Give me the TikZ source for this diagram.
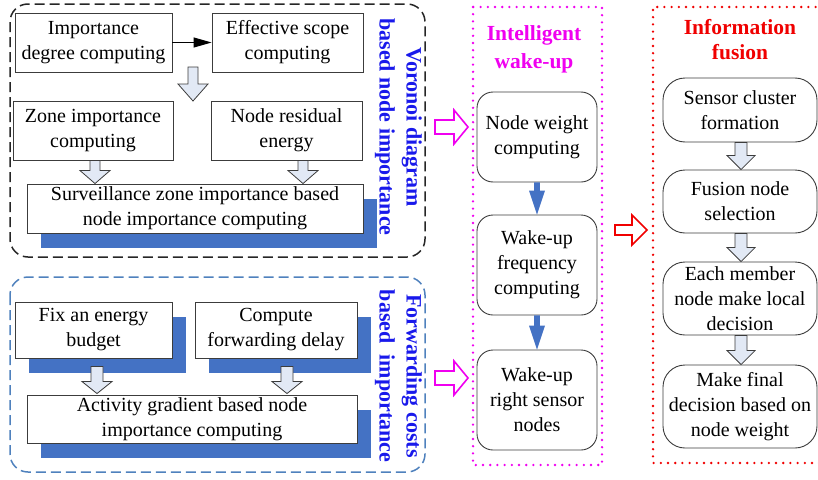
\documentclass[tikz,border=0pt]{standalone}
\usepackage{fontspec}
\setmainfont{Liberation Serif}
\usetikzlibrary{calc,shadows,arrows.meta}
\definecolor{sblue}{RGB}{68,114,196}
\definecolor{dblue}{RGB}{79,129,189}
\definecolor{vblue}{RGB}{25,25,235}
\definecolor{hfill}{RGB}{226,233,245}
\definecolor{bline}{RGB}{60,60,60}
\definecolor{mag}{RGB}{240,0,240}
\definecolor{fred}{RGB}{240,0,0}
\newcommand\hollowdown[6]{%
  \path[#1] let \p1=(#2), \p2=(#3) in
  (\x1-#4pt,\y1) -- (\x1+#4pt,\y1) -- (\x1+#4pt,\y2+#6pt) -- (\x1+#5pt,\y2+#6pt)
  -- (\x1,\y2) -- (\x1-#5pt,\y2+#6pt) -- (\x1-#4pt,\y2+#6pt) -- cycle;}
\newcommand\hollowright[6]{%
  \path[#1] let \p1=(#2), \p2=(#3) in
  (\x1,\y1+#4pt) -- (\x2-#6pt,\y1+#4pt) -- (\x2-#6pt,\y1+#5pt) -- (\x2,\y1)
  -- (\x2-#6pt,\y1-#5pt) -- (\x2-#6pt,\y1-#4pt) -- (\x1,\y1-#4pt) -- cycle;}
\tikzset{
  boxbase/.style={draw=bline, line width=0.9pt, fill=white, inner sep=0pt, align=center,
    font=\fontsize{20}{25}\selectfont},
  sqbox/.style={boxbase},
  shbox/.style={boxbase, general shadow={fill=sblue, shadow xshift=14pt, shadow yshift=-15pt}},
  rbox/.style={boxbase, rounded corners=16pt},
  fbox/.style={boxbase, rounded corners=22pt},
  vlabel/.style={rotate=-90, align=center, text=vblue, font=\fontsize{22}{27}\selectfont\bfseries},
  hollowgray/.style={draw=bline, line width=0.8pt, fill=hfill},
  hollowmag/.style={draw=mag, line width=1.6pt, fill=white},
  hollowred/.style={draw=fred, line width=1.6pt, fill=white},
  solidblue/.style={fill=sblue},
  dotline/.style={line width=2.6pt, line cap=round, dash pattern=on 0pt off 7.2pt},
}
\begin{document}
\begin{tikzpicture}[x=1pt,y=-1pt]
\useasboundingbox (0,0) rectangle (818,479);
\clip (0,0) rectangle (818,479);
% containers
\draw[black!85, line width=1.5pt, dash pattern=on 10pt off 5pt, rounded corners=18pt]
  (10,4) rectangle (425,257);
\draw[dblue, line width=1.5pt, dash pattern=on 10pt off 5pt, rounded corners=18pt]
  (10,277) rectangle (425,472);
\draw[mag, dotline] (473,7) rectangle (602,465);
\draw[fred, dotline] (830,7) -- (653,7) -- (653,463) -- (830,463);

% left top group
\node[sqbox, minimum width=157pt, minimum height=59pt] (imp) at (93.5,42.5) {Importance\\degree computing};
\node[sqbox, minimum width=151pt, minimum height=59pt] (eff) at (287.5,42.5) {Effective scope\\computing};
\node[sqbox, minimum width=160pt, minimum height=59pt] (zone) at (93,130.5) {Zone importance\\computing};
\node[sqbox, minimum width=151pt, minimum height=59pt] (resid) at (286.5,130.5) {Node residual\\energy};
\node[shbox, minimum width=336pt, minimum height=49pt] (surv) at (195,208.5) {Surveillance zone importance based\\node importance computing};
\node[vlabel] (vlab) at (398.5,127) {Voronoi diagram\\based node importance};

\draw[line width=1pt, -{Triangle[length=18pt,width=10pt]}] (imp.east) -- (eff.west);
\coordinate (a1s) at (193,67);
\coordinate (a1e) at (193,101);
\hollowdown{hollowgray}{a1s}{a1e}{5}{15}{17}
\hollowdown{hollowgray}{$(zone.south)+(2,0)$}{$(zone.south |- surv.north)+(2,0)$}{5}{15}{13}
\hollowdown{hollowgray}{$(resid.south)+(16.5,0)$}{$(resid.south |- surv.north)+(16.5,0)$}{5}{15}{13}

% left bottom group
\node[shbox, minimum width=157pt, minimum height=56pt] (fix) at (93.5,330) {Fix an energy\\budget};
\node[shbox, minimum width=162pt, minimum height=56pt] (fwd) at (276,330) {Compute\\forwarding delay};
\node[shbox, minimum width=330pt, minimum height=48pt] (act) at (192,419) {Activity gradient based node\\importance computing};
\node[vlabel] (flab) at (398.5,376) {Forwarding costs\\based\ \ importance};
\hollowdown{hollowgray}{$(fix.south)+(3.5,8)$}{$(fix.south |- act.north)+(3.5,-1)$}{6}{15}{12}
\hollowdown{hollowgray}{$(fwd.south)+(11,8)$}{$(fwd.south |- act.north)+(11,-1)$}{6}{15}{12}

% middle column
\node[text=mag, align=center, font=\fontsize{21.5}{28}\selectfont\bfseries] (ititle) at (534,49) {Intelligent\\wake-up};
\node[rbox, minimum width=120pt, minimum height=90pt] (nw) at (537,137) {Node weight\\computing};
\node[rbox, minimum width=120pt, minimum height=100pt] (wf) at (537,265) {Wake-up\\frequency\\computing};
\node[rbox, minimum width=120pt, minimum height=100pt] (wr) at (537,400) {Wake-up\\right sensor\\nodes};
\hollowdown{solidblue}{nw.south}{wf.north}{2.8}{8}{24}
\hollowdown{solidblue}{wf.south}{wr.north}{2.8}{8}{24}
\coordinate (m1s) at (435,127);
\coordinate (m1e) at (468,127);
\coordinate (m2s) at (435,378);
\coordinate (m2e) at (468,378);
\hollowright{hollowmag}{m1s}{m1e}{7}{17}{14}
\hollowright{hollowmag}{m2s}{m2e}{7}{17}{14}

% red arrow
\coordinate (r1s) at (615,230);
\coordinate (r1e) at (647,230);
\hollowright{hollowred}{r1s}{r1e}{5}{15}{15}

% right column
\node[text=fred, align=center, font=\fontsize{21.5}{25}\selectfont\bfseries] (ftitle) at (740,40) {Information\\fusion};
\node[fbox, minimum width=154pt, minimum height=64pt] (sc) at (740,110) {Sensor cluster\\formation};
\node[fbox, minimum width=154pt, minimum height=63pt] (fn) at (740,201.5) {Fusion node\\selection};
\node[fbox, minimum width=154pt, minimum height=73pt] (em) at (740,298.5) {Each member\\node make local\\decision};
\node[fbox, minimum width=154pt, minimum height=83pt] (mf) at (740,406.5) {Make final\\decision based on\\node weight};
\hollowdown{hollowgray}{$(sc.south)+(1,0)$}{$(fn.north)+(1,0)$}{6}{14}{14}
\hollowdown{hollowgray}{$(fn.south)+(1,0)$}{$(em.north)+(1,0)$}{6}{14}{14}
\hollowdown{hollowgray}{$(em.south)+(1,0)$}{$(mf.north)+(1,0)$}{6}{14}{14}
\end{tikzpicture}
\end{document}
